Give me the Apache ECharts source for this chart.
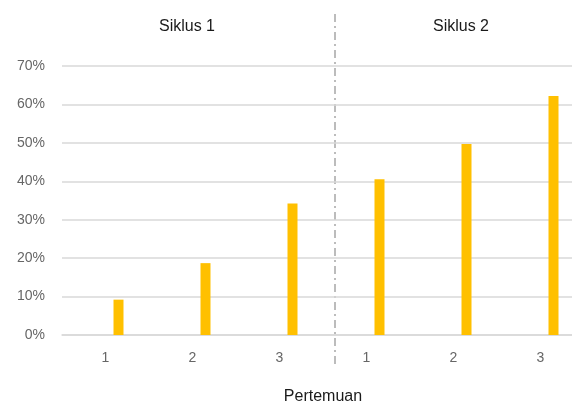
<!DOCTYPE html>
<html style="height: 100%">
<head>
<meta charset="utf-8">
<style>
    html, body { height: 100%; margin: 0; overflow: hidden; background: #fff; }
    #chart { width: 572px; height: 405px; }
</style>
</head>
<body>
<div id="chart"></div>
<script src="https://cdn.jsdelivr.net/npm/echarts@6/dist/echarts.min.js"></script>
<script>
// pertemuan per siklus
var categories = ['1', '2', '3', '1', '2', '3'];
var persen = [9.2, 18.7, 34.2, 40.5, 49.7, 62.2];   // %
var kosong = [null, null, null, null, null, null];  // seri kosong (geser batang)
var siklusLabels = ['Siklus 1', 'Siklus 2'];

var chart = echarts.init(document.getElementById('chart'));
var font = 'Liberation Sans, Arial, sans-serif';

var option = {
    animation: false,
    title: [
        { text: siklusLabels[0], left: 182, top: 14, textAlign: 'center',
          textStyle: { fontFamily: font, fontSize: 16, fontWeight: 'normal', color: '#1a1a1a' } },
        { text: siklusLabels[1], left: 456, top: 14, textAlign: 'center',
          textStyle: { fontFamily: font, fontSize: 16, fontWeight: 'normal', color: '#1a1a1a' } }
    ],
    grid: { left: 62, top: 66, bottom: 70, width: 522, outerBoundsMode: 'none', containLabel: false },
    xAxis: {
        type: 'category',
        data: categories,
        name: 'Pertemuan',
        nameLocation: 'middle',
        nameGap: 54,
        nameTextStyle: { fontFamily: font, fontSize: 16, color: '#1a1a1a' },
        axisLine: { lineStyle: { color: '#d9d9d9', width: 1.5 } },
        axisTick: { show: false },
        axisLabel: { fontFamily: font, fontSize: 14, color: '#666', margin: 16 }
    },
    yAxis: {
        type: 'value',
        min: 0,
        max: 70,
        interval: 10,
        axisLine: { show: false },
        axisTick: { show: false },
        axisLabel: { formatter: '{value}%', fontFamily: font, fontSize: 14, color: '#666', margin: 17 },
        splitLine: { lineStyle: { color: '#d9d9d9', width: 1.5 } }
    },
    series: [
        { type: 'bar', data: kosong, barWidth: 10, barGap: '160%' },
        { type: 'bar', data: persen, barWidth: 10, itemStyle: { color: '#ffc000' } }
    ],
    graphic: [
        { type: 'line', shape: { x1: 335, y1: 14, x2: 335, y2: 364 },
          style: { stroke: '#a6a6a6', lineWidth: 1.5, lineDash: [8, 4, 2, 4] } }
    ]
};
chart.setOption(option);
</script>
</body>
</html>
